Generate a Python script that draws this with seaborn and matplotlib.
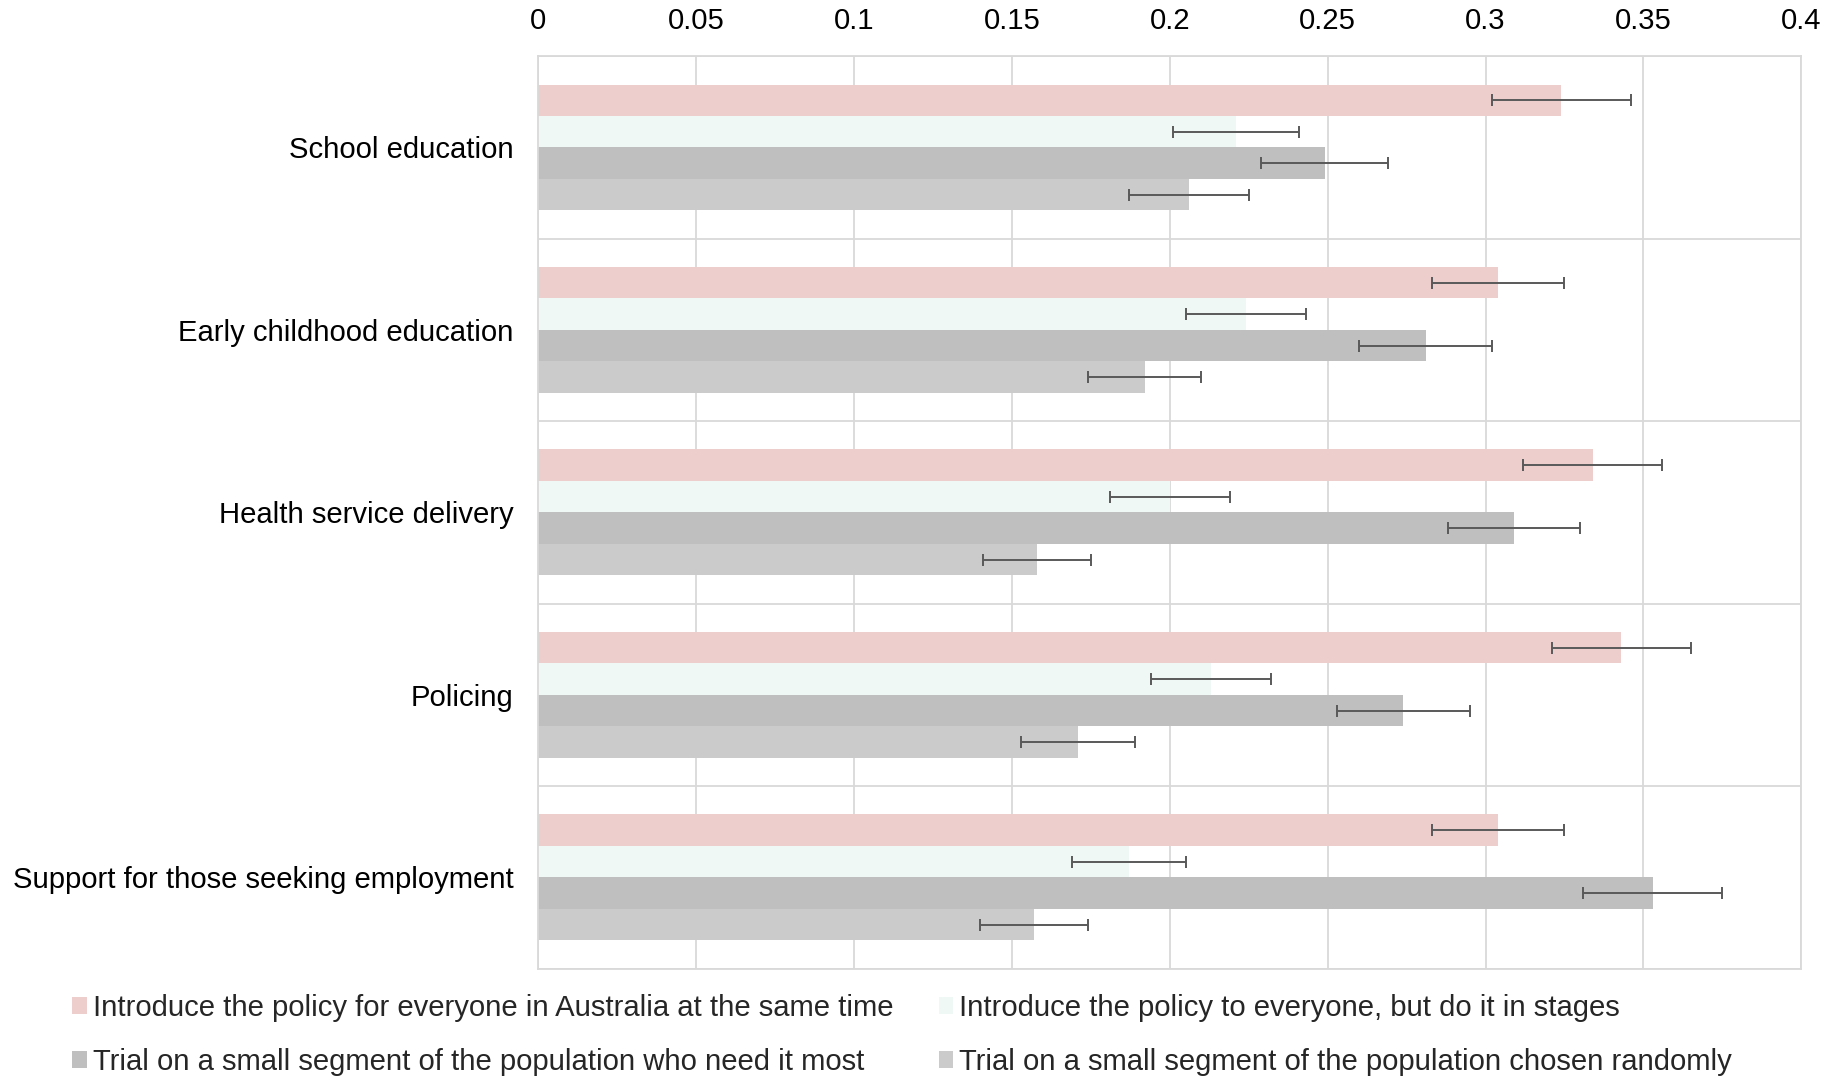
import numpy as np
import pandas as pd
import matplotlib
matplotlib.use("Agg")
import matplotlib.pyplot as plt
import seaborn as sns
from matplotlib.ticker import FuncFormatter, MultipleLocator
from matplotlib.patches import Patch

# ── Data ───────────────────────────────────────────────────────────────────
categories = [
    "School education",
    "Early childhood education",
    "Health service delivery",
    "Policing",
    "Support for those seeking employment",
]
series = [
    "Introduce the policy for everyone in Australia at the same time",
    "Introduce the policy to everyone, but do it in stages",
    "Trial on a small segment of the population who need it most",
    "Trial on a small segment of the population chosen randomly",
]
same_time   = [0.324, 0.304, 0.334, 0.343, 0.304]
in_stages   = [0.221, 0.224, 0.200, 0.213, 0.187]
need_most   = [0.249, 0.281, 0.309, 0.274, 0.353]
randomly    = [0.206, 0.192, 0.158, 0.171, 0.157]

err_same    = [0.022, 0.021, 0.022, 0.022, 0.021]
err_stages  = [0.020, 0.019, 0.019, 0.019, 0.018]
err_need    = [0.020, 0.021, 0.021, 0.021, 0.022]
err_random  = [0.019, 0.018, 0.017, 0.018, 0.017]

colors = ["#EDCECD", "#F0F8F6", "#BFBFBF", "#CBCBCB"]

values = [same_time, in_stages, need_most, randomly]
errors = [err_same, err_stages, err_need, err_random]

df = pd.DataFrame({
    "category": np.tile(categories, len(series)),
    "series": np.repeat(series, len(categories)),
    "value": np.concatenate(values),
})

# ── Style ─────────────────────────────────────────────────────────────────
sns.set_style("white")
plt.rcParams["font.family"] = ["Liberation Sans", "DejaVu Sans"]
FS = 21.1
GRID = "#D9D9D9"

fig = plt.figure(figsize=(18.39, 10.77), dpi=100)
ax = fig.add_axes([0.2927, 0.1006, 0.6868, 0.8472])

sns.barplot(data=df, y="category", x="value", hue="series",
            order=categories, hue_order=series, palette=colors,
            orient="h", width=0.69, errorbar=None, saturation=1,
            linewidth=0, ax=ax)

# error bars at the centre of every bar
for cont, err in zip(ax.containers, errors):
    ys = [p.get_y() + p.get_height() / 2 for p in cont.patches]
    xs = [p.get_width() for p in cont.patches]
    ax.errorbar(xs, ys, xerr=err, fmt="none", ecolor="#595959",
                elinewidth=1.4, capsize=4.5, capthick=1.4, zorder=5)

ax.set_xlim(0, 0.4)
ax.set_ylim(len(categories) - 0.5, -0.5)
ax.xaxis.set_major_locator(MultipleLocator(0.05))
ax.xaxis.set_major_formatter(FuncFormatter(lambda v, _: f"{v:g}"))
ax.xaxis.tick_top()
ax.tick_params(axis="x", length=0, pad=15, labelsize=FS, colors="black")
ax.tick_params(axis="y", length=0, pad=18, labelsize=FS, colors="black")
ax.set_xlabel("")
ax.set_ylabel("")

# gridlines: vertical at value ticks, horizontal between categories
ax.set_yticks(np.arange(len(categories) + 1) - 0.5, minor=True)
ax.grid(axis="x", which="major", color=GRID, linewidth=1.3)
ax.grid(axis="y", which="minor", color=GRID, linewidth=1.3)
ax.grid(axis="y", which="major", visible=False)
ax.tick_params(axis="y", which="minor", length=0)
ax.set_axisbelow(True)
for s in ax.spines.values():
    s.set_visible(True)
    s.set_color(GRID)
    s.set_linewidth(1.3)

# legend below the plot, two columns
ax.get_legend().remove()
handles = [Patch(facecolor=c, edgecolor="none") for c in colors]
order = [0, 2, 1, 3]
fig.legend([handles[i] for i in order], [series[i] for i in order],
           ncol=2, loc="lower left", bbox_to_anchor=(0.033, -0.010),
           frameon=False, fontsize=FS, handlelength=0.5, handleheight=0.5,
           handletextpad=0.2, columnspacing=1.55, labelspacing=0.9,
           borderaxespad=0)

fig.savefig("out.png", dpi=100, facecolor="white")
